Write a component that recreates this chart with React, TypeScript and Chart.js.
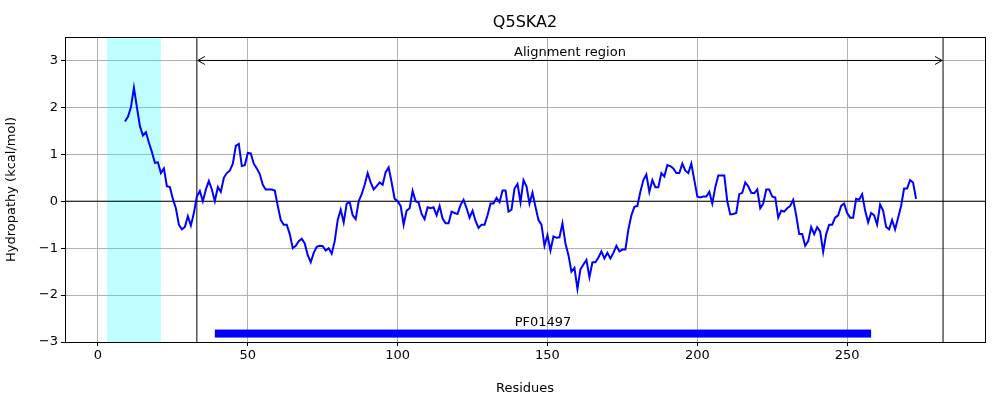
import React, { useEffect, useRef } from 'react';
import { Chart, registerables } from 'chart.js';

Chart.register(...registerables);

const startResidue = 9;
const hydropathy = [
  1.7, 1.8, 2.0, 2.42, 2.0, 1.6, 1.4, 1.47, 1.25, 1.05, 0.82, 0.83, 0.6, 0.7,
  0.32, 0.3, 0.05, -0.15, -0.5, -0.6, -0.55, -0.32, -0.52, -0.25, 0.1, 0.22, 0.0, 0.25, 0.43, 0.25,
  0.0, 0.3, 0.2, 0.5, 0.6, 0.65, 0.8, 1.18, 1.22, 0.75, 0.77, 1.03, 1.02, 0.8, 0.7, 0.58,
  0.35, 0.25, 0.25, 0.25, 0.23, -0.1, -0.4, -0.5, -0.5, -0.7, -1.0, -0.95, -0.85, -0.8,
  -0.9, -1.15, -1.3, -1.1, -0.97, -0.95, -0.96, -1.05, -1.0, -1.12, -0.85, -0.4, -0.18, -0.45,
  -0.05, -0.02, -0.3, -0.38, 0.0, 0.15, 0.35, 0.6, 0.4, 0.25, 0.32, 0.4, 0.35, 0.62, 0.72,
  0.4, 0.05, 0.0, -0.1, -0.5, -0.2, -0.15, 0.22, 0.0, -0.03, -0.27, -0.38, -0.13, -0.15,
  -0.13, -0.3, -0.1, -0.37, -0.47, -0.47, -0.22, -0.25, -0.27, -0.08, 0.03, -0.15, -0.35,
  -0.2, -0.42, -0.57, -0.5, -0.5, -0.3, -0.05, -0.05, 0.07, -0.02, 0.23, 0.23, -0.22, -0.18,
  0.27, 0.37, -0.02, 0.45, 0.32, -0.05, 0.18, -0.12, -0.4, -0.5, -0.95, -0.72, -1.05, -0.75,
  -0.78, -0.77, -0.47, -0.9, -1.15, -1.5, -1.42, -1.87, -1.45, -1.35, -1.25, -1.62, -1.3,
  -1.3, -1.2, -1.07, -1.22, -1.1, -1.22, -1.1, -0.95, -1.07, -1.03, -1.03, -0.6, -0.3, -0.12,
  -0.1, 0.2, 0.45, 0.57, 0.2, 0.45, 0.3, 0.3, 0.6, 0.53, 0.77, 0.75, 0.7, 0.6, 0.6, 0.8,
  0.65, 0.6, 0.8, 0.45, 0.1, 0.08, 0.1, 0.1, 0.2, -0.05, 0.3, 0.55, 0.55, 0.55, 0.0, -0.28,
  -0.27, -0.25, 0.15, 0.18, 0.4, 0.32, 0.18, 0.17, 0.25, -0.15, -0.05, 0.25, 0.25, 0.1, 0.08,
  -0.35, -0.2, -0.22, -0.15, -0.1, 0.03, -0.3, -0.7, -0.7, -0.95, -0.85, -0.55, -0.7, -0.55,
  -0.65, -1.08, -0.7, -0.5, -0.5, -0.35, -0.3, -0.1, -0.05, -0.25, -0.35, -0.35, 0.05, 0.03,
  0.15, -0.2, -0.45, -0.25, -0.3, -0.5, -0.07, -0.2, -0.55, -0.6, -0.4, -0.6, -0.35, -0.1,
  0.27, 0.27, 0.45, 0.4, 0.05,
];
const xTicks = [0, 50, 100, 150, 200, 250];
const yTicks = [-3, -2, -1, 0, 1, 2, 3];
const signalBand = [3, 21];
const alignment = [33, 282];
const domain = { name: 'PF01497', from: 39, to: 258 };

const FONT = 'DejaVu Sans';

const overlays = {
  id: 'overlays',
  beforeDatasetsDraw(chart: Chart) {
    const { ctx, chartArea: a, scales } = chart;
    const x = scales.x, y = scales.y;
    ctx.save();
    ctx.fillStyle = 'rgba(0,255,255,0.25)';
    ctx.fillRect(x.getPixelForValue(signalBand[0]), a.top, x.getPixelForValue(signalBand[1]) - x.getPixelForValue(signalBand[0]), a.bottom - a.top);
    ctx.strokeStyle = '#000';
    ctx.lineWidth = 1;
    ctx.beginPath();
    ctx.moveTo(a.left, y.getPixelForValue(0));
    ctx.lineTo(a.right, y.getPixelForValue(0));
    alignment.forEach((v) => {
      ctx.moveTo(x.getPixelForValue(v), a.top);
      ctx.lineTo(x.getPixelForValue(v), a.bottom);
    });
    ctx.stroke();
    ctx.restore();
  },
  afterDatasetsDraw(chart: Chart) {
    const { ctx, chartArea: a, scales } = chart;
    const x = scales.x, y = scales.y;
    ctx.save();
    // arrow
    const x1 = x.getPixelForValue(alignment[0]), x2 = x.getPixelForValue(alignment[1]);
    const ay = y.getPixelForValue(3);
    ctx.strokeStyle = '#000';
    ctx.lineWidth = 1;
    ctx.beginPath();
    ctx.moveTo(x1 + 1, ay); ctx.lineTo(x2 - 1, ay);
    ctx.moveTo(x1 + 8, ay - 4); ctx.lineTo(x1 + 1, ay); ctx.lineTo(x1 + 8, ay + 4);
    ctx.moveTo(x2 - 8, ay - 4); ctx.lineTo(x2 - 1, ay); ctx.lineTo(x2 - 8, ay + 4);
    ctx.stroke();
    ctx.fillStyle = '#000';
    ctx.font = `13px ${FONT}`;
    ctx.textAlign = 'center';
    ctx.textBaseline = 'bottom';
    ctx.fillText('Alignment region', (x1 + x2) / 2, ay - 1);
    // domain bar
    const by = y.getPixelForValue(-2.82);
    ctx.fillStyle = '#0000ff';
    ctx.fillRect(x.getPixelForValue(domain.from), by - 4, x.getPixelForValue(domain.to) - x.getPixelForValue(domain.from), 8);
    ctx.fillStyle = '#000';
    ctx.fillText(domain.name, (x.getPixelForValue(domain.from) + x.getPixelForValue(domain.to)) / 2, by - 4);
    // frame
    ctx.strokeRect(a.left + 0.5, a.top + 0.5, a.right - a.left, a.bottom - a.top);
    // title
    ctx.font = `16px ${FONT}`;
    ctx.textBaseline = 'middle';
    ctx.fillText('Q5SKA2', (a.left + a.right) / 2, 23);
    ctx.restore();
  },
};

export default function App() {
  const canvas = useRef<HTMLCanvasElement>(null);

  useEffect(() => {
    document.body.style.margin = '0';
    const points = hydropathy.map((v, i) => ({ x: startResidue + i, y: v }));
    const chart = new Chart(canvas.current!, {
      type: 'line',
      data: {
        datasets: [
          { data: points, borderColor: '#0000ff', borderWidth: 2, pointRadius: 0, tension: 0, fill: false },
        ],
      },
      options: {
        animation: false,
        responsive: false,
        layout: { padding: { top: 37, right: 15, left: 0, bottom: 0 } },
        plugins: { legend: { display: false }, tooltip: { enabled: false } },
        scales: {
          x: {
            type: 'linear',
            min: -11,
            max: 296,
            afterBuildTicks: (s: any) => { s.ticks = xTicks.map((v) => ({ value: v })); },
            afterFit: (s: any) => { s.height = 58; },
            grid: { color: '#b0b0b0', tickColor: '#000', tickLength: 4 },
            border: { display: false },
            ticks: { color: '#000', font: { family: FONT, size: 13 }, padding: 2, maxRotation: 0 },
            title: { display: true, text: 'Residues', color: '#000', font: { family: FONT, size: 13 }, padding: { top: 2 } },
          },
          y: {
            min: -3,
            max: 3.5,
            afterBuildTicks: (s: any) => { s.ticks = yTicks.map((v) => ({ value: v })); },
            afterFit: (s: any) => { s.width = 65; },
            grid: { color: '#b0b0b0', tickColor: '#000', tickLength: 4 },
            border: { display: false },
            ticks: {
              color: '#000', font: { family: FONT, size: 13 }, padding: 3,
              callback: (v: any) => (Number(v) < 0 ? '\u2212' + Math.abs(Number(v)) : String(v)),
            },
            title: { display: true, text: 'Hydropathy (kcal/mol)', color: '#000', font: { family: FONT, size: 13 }, padding: { bottom: 4 } },
          },
        },
      },
      plugins: [overlays],
    });
    return () => chart.destroy();
  });

  return <canvas ref={canvas} width={1000} height={400}></canvas>;
}
